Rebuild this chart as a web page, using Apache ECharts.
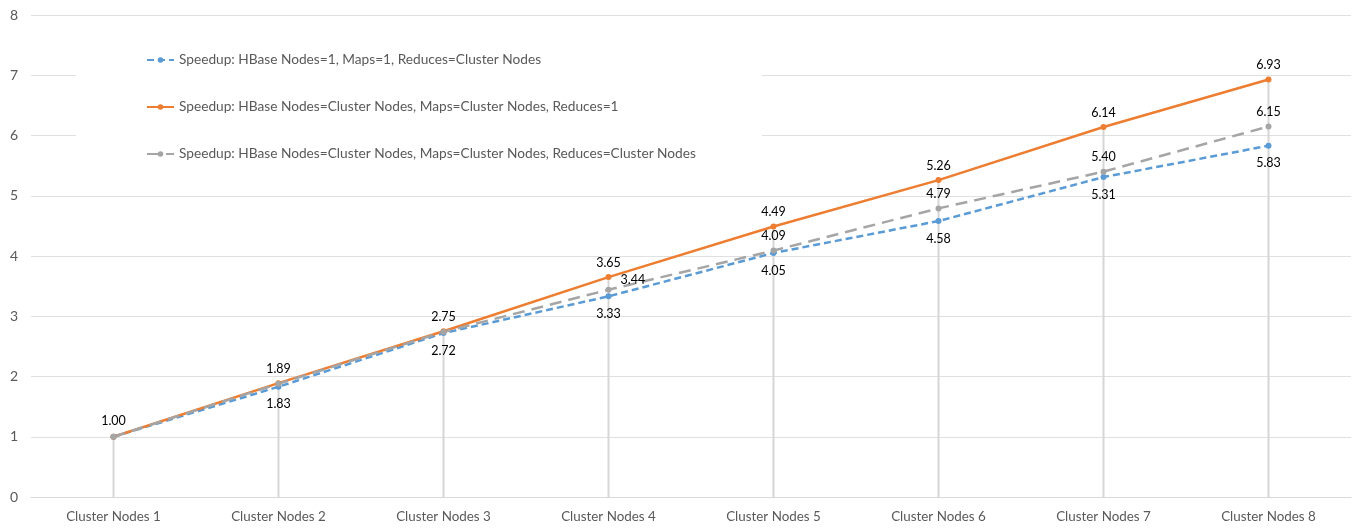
<!DOCTYPE html>
<html>
<head>
<meta charset="utf-8">
<script src="https://cdn.jsdelivr.net/npm/echarts@6/dist/echarts.min.js"></script>
<style>
  html, body { margin: 0; padding: 0; background: #fff; }
  #chart { width: 1357px; height: 530px; }
</style>
</head>
<body>
<div id="chart"></div>
<script>
// Cluster sizes on the x axis
const categories = ['Cluster Nodes 1', 'Cluster Nodes 2', 'Cluster Nodes 3', 'Cluster Nodes 4',
                    'Cluster Nodes 5', 'Cluster Nodes 6', 'Cluster Nodes 7', 'Cluster Nodes 8'];

// Speedup measurements per configuration
const speedupReducesScaled = [1.00, 1.83, 2.72, 3.33, 4.05, 4.58, 5.31, 5.83];
const speedupMapsScaled    = [1.00, 1.89, 2.75, 3.65, 4.49, 5.26, 6.14, 6.93];
const speedupAllScaled     = [1.00, 1.88, 2.74, 3.44, 4.09, 4.79, 5.40, 6.15];

const seriesNames = [
  'Speedup: HBase Nodes=1, Maps=1, Reduces=Cluster Nodes',
  'Speedup: HBase Nodes=Cluster Nodes, Maps=Cluster Nodes, Reduces=1',
  'Speedup: HBase Nodes=Cluster Nodes, Maps=Cluster Nodes, Reduces=Cluster Nodes'
];

const yTicks = [0, 1, 2, 3, 4, 5, 6, 7, 8];

const labelFont = { fontFamily: 'Lato', fontSize: 12.5, color: '#000' };

// Drop lines run from the highest value at each category down to the axis
const dropValues = categories.map((_, i) =>
  Math.max(speedupReducesScaled[i], speedupMapsScaled[i], speedupAllScaled[i]));

function withLabels(values, labelFor) {
  return values.map((v, i) => {
    const l = labelFor(i);
    return l ? { value: v, label: l } : { value: v, label: { show: false } };
  });
}

const blueData = withLabels(speedupReducesScaled, i =>
  i === 0 ? null : { show: true, position: 'bottom', distance: 8 });
const orangeData = withLabels(speedupMapsScaled, i =>
  i === 0 ? null : { show: true, position: 'top', distance: 5 });
const grayData = withLabels(speedupAllScaled, i => {
  if (i === 0) return { show: true, position: 'top', distance: 6 };
  if (i === 1 || i === 2) return null;
  if (i === 3) return { show: true, position: 'right', distance: 9, offset: [0, -10] };
  return { show: true, position: 'top', distance: 5 };
});

const chart = echarts.init(document.getElementById('chart'), null, { renderer: 'canvas' });

chart.setOption({
  animation: false,
  backgroundColor: '#fff',
  grid: { left: 31, right: 6, top: 15, bottom: 33, containLabel: false },
  // White panel behind the legend hides the gridlines under it
  graphic: [{
    type: 'rect',
    z: 1,
    silent: true,
    shape: { x: 76, y: 30, width: 686, height: 140 },
    style: { fill: '#fff' }
  }],
  legend: {
    orient: 'vertical',
    left: 146,
    top: 52,
    padding: 0,
    z: 5,
    itemWidth: 27,
    itemHeight: 7,
    itemGap: 31,
    data: seriesNames,
    textStyle: { fontFamily: 'Lato', fontSize: 13.7, lineHeight: 16, color: '#595959' }
  },
  xAxis: {
    type: 'category',
    data: categories,
    boundaryGap: true,
    axisLine: { lineStyle: { color: '#D9D9D9', width: 1 } },
    axisTick: { show: false },
    axisLabel: { fontFamily: 'Lato', fontSize: 13.4, color: '#595959', margin: 13 },
    splitLine: { show: false }
  },
  yAxis: {
    type: 'value',
    min: yTicks[0],
    max: yTicks[yTicks.length - 1],
    interval: 1,
    axisLine: { show: false },
    axisTick: { show: false },
    axisLabel: { fontFamily: 'Lato', fontSize: 14, color: '#595959', margin: 13,
                 formatter: v => String(v) },
    splitLine: { lineStyle: { color: '#E0E0E0', width: 1 } }
  },
  series: [
    {
      name: 'drop',
      type: 'bar',
      data: dropValues,
      barWidth: 2,
      silent: true,
      z: 1.5,
      itemStyle: { color: '#D6D6D6' },
      label: { show: false }
    },
    {
      name: seriesNames[0],
      type: 'line',
      data: blueData,
      z: 3,
      symbol: 'circle',
      symbolSize: 6,
      lineStyle: { color: '#5B9BD5', width: 2.5, type: [7, 4] },
      itemStyle: { color: '#5B9BD5' },
      label: Object.assign({ formatter: p => p.value.toFixed(2) }, labelFont)
    },
    {
      name: seriesNames[1],
      type: 'line',
      data: orangeData,
      z: 3,
      symbol: 'circle',
      symbolSize: 6,
      lineStyle: { color: '#ED7D31', width: 2.5 },
      itemStyle: { color: '#ED7D31' },
      label: Object.assign({ formatter: p => p.value.toFixed(2) }, labelFont)
    },
    {
      name: seriesNames[2],
      type: 'line',
      data: grayData,
      z: 3,
      symbol: 'circle',
      symbolSize: 6,
      lineStyle: { color: '#A5A5A5', width: 2.5, type: [12, 7] },
      itemStyle: { color: '#A5A5A5' },
      label: Object.assign({ formatter: p => p.value.toFixed(2) }, labelFont)
    }
  ]
});
</script>
</body>
</html>
